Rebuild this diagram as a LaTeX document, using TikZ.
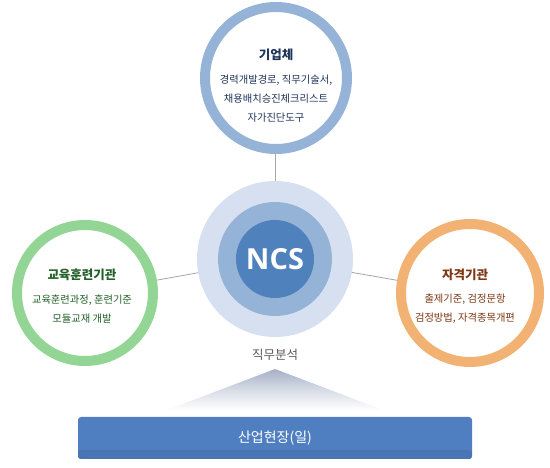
\documentclass[tikz,border=0pt]{standalone}
\usepackage{fontspec}
\setmainfont{Noto Sans CJK KR}
\newfontfamily\ncsfont{Open Sans}
\usepackage{tikz}
\usetikzlibrary{positioning, calc}
\definecolor{RingBlue}{RGB}{149, 179, 215}
\definecolor{CoreOut}{RGB}{214, 224, 240}
\definecolor{CoreIn}{RGB}{79, 129, 189}
\definecolor{RingGreen}{RGB}{147, 213, 148}
\definecolor{RingOrange}{RGB}{242, 178, 116}
\definecolor{TxtBlue}{RGB}{31, 52, 90}
\definecolor{TxtGreen}{RGB}{34, 96, 40}
\definecolor{TxtBrown}{RGB}{125, 55, 20}
\definecolor{BarBlue}{RGB}{80, 127, 193}
\definecolor{BarDark}{RGB}{74, 117, 180}
\definecolor{ConeTop}{RGB}{165, 176, 198}

\begin{document}
\begin{tikzpicture}[x=1pt, y=-1pt,
 ring/.style={circle, draw=#1, line width=10pt, fill=white, inner sep=0pt},
 core/.style={circle, fill=#1, inner sep=0pt},
 ttl/.style={font=\fontsize{12.5}{14}\selectfont\bfseries, text=#1},
 txt/.style={font=\fontsize{10.3}{19}\selectfont, text=#1, align=center},
 ln/.style={draw=black!35, line width=0.8pt}]
\useasboundingbox (0,0) rectangle (550,468);
\node[core=CoreOut, minimum size=156pt] (ncsout) at (275,259) {};
\node[core=RingBlue, minimum size=114pt] (ncsmid) at (275,259) {};
\node[core=CoreIn, minimum size=78pt, text=white, font=\ncsfont\fontsize{29}{30}\selectfont\bfseries] (ncs) at (275,259) {NCS};
\node[ring=RingBlue, minimum size=142pt] (ent) at (276,78) {};
\node[ring=RingGreen, minimum size=136pt] (edu) at (85,293) {};
\node[ring=RingOrange, minimum size=138pt] (cert) at (470,293) {};
\draw[ln] (ncsout) -- (ent); \draw[ln] (ncsout) -- (edu); \draw[ln] (ncsout) -- (cert);
\node[ttl=TxtBlue] (entt) at (276,55) {기업체};
\node[txt=TxtBlue] (entb) at (276,99) {경력개발경로, 직무기술서,\\채용배치승진체크리스트\\자가진단도구};
\node[ttl=TxtGreen] (edut) at (82,275) {교육훈련기관};
\node[txt=TxtGreen] (edub) at (82,309) {교육훈련과정, 훈련기준\\모듈교재 개발};
\node[ttl=TxtBrown] (certt) at (465,275) {자격기관};
\node[txt=TxtBrown] (certb) at (465,309) {출제기준, 검정문항\\검정방법, 자격종목개편};
\node[font=\fontsize{12.5}{14}\selectfont, text=black!65] (job) at (275,355) {직무분석};
\shade[top color=ConeTop, bottom color=white, middle color=ConeTop!45] (275,369) -- (383,410) -- (167,410) -- cycle;
\node[rounded corners=3pt, fill=BarBlue, minimum width=394pt, minimum height=42pt,
 path picture={\fill[BarDark] (path picture bounding box.south west) rectangle ([yshift=9pt]path picture bounding box.south east);}] (site) at (275,438) {};
\node[text=white, font=\fontsize{14}{16}\selectfont] (sitet) at (site.center) {산업현장(일)};
\end{tikzpicture}
\end{document}
